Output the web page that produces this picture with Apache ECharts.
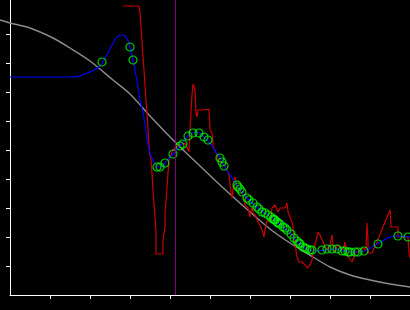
<!DOCTYPE html>
<html>
<head>
<meta charset="utf-8">
<script src="https://cdn.jsdelivr.net/npm/echarts/dist/echarts.min.js"></script>
<style>
html,body{margin:0;padding:0;background:#000;}
#chart{width:410px;height:310px;}
</style>
</head>
<body>
<div id="chart"></div>
<script>
// Tick positions (no labels in the reference)
const xTicks = [40, 80, 120, 160, 200, 240, 280, 320, 360];
const yTicks = [29, 58, 87, 116, 145, 174, 203, 232, 261];
const markerX = 165.5;

// Smooth gray reference curve
const referenceCurve = [
  [-10,275],[0,272],[20,267],[43,257],[60,247],[80,234],[103,215],[120,201],
  [140,179],[167,151],[190,129],[210,110],[240,83],[260,66],[280,52],[303,38],
  [320,28],[340,20],[360,15],[380,11],[400,8]
];

// Blue fitted curve
const fitCurve = [
  [0,218],[30,218],[60,218],[68,218.5],[75,221],[80,223],[85,225.5],[90,229],
  [94,235],[98,242],[102,250],[106,257],[109,259.5],[112,260],[115,259],[118,254],
  [120,248],[123,235],[126,220],[128,208],[130,195],[133,182],[135,170],[138,150],
  [141,139],[145,131],[148,128],[151,128],[155,132],[159,137],[163,141],[167,146],
  [171,150],[176,157],[180,161],[185,162.5],[190,162],[194,158],[198,154],[202,149],
  [206,143],[210,137],[214,130],[218,123],[223,116],[228,108],[233,102],[238,96],
  [244,90],[250,85],[256,81],[262,77],[268,72],[274,67],[280,62],[285,56],[290,51],
  [295,47],[300,45],[306,44],[315,45],[325,46],[335,44],[345,43],[354,44],[360,47],
  [367,51],[374,55],[380,58],[388,59],[394,58.5],[400,58]
];

// Red measured signal
const measured = [
  [113,289],[129,289],[130,282],[131,268],[132,253],[133,238],[134,225],[135,210],
  [136,195],[137,182],[138,165],[139,150],[140,140],[141,135],[142,122],[143,105],
  [144,92],[145,77],[146,63],[146,41],[153,41],[153,55],[155,68],[155,82],[156,93],
  [157,108],[158,122],[159,135],[160,138],[162,140],[163,145],[166,148],[168,150],
  [172,151],[175,152],[177,148],[179,143],[180,165],[182,200],[183,211],[184,211],
  [185,205],[186,182],[187,178],[188,185],[190,183],[192,185],[193,186],[199,186],
  [200,165],[202,162],[203,155],[203,148],[205,145],[207,140],[208,135],[210,137],
  [212,132],[215,129],[217,125],[219,120],[221,102],[222,97],[223,105],[224,115],
  [225,118],[226,113],[227,108],[230,105],[233,100],[235,90],[238,87],[240,78],
  [242,88],[243,83],[245,80],[248,73],[251,68],[254,58],[255,65],[257,75],[260,73],
  [262,87],[265,90],[268,83],[270,87],[272,88],[275,87],[277,92],[278,83],[280,78],
  [282,73],[283,68],[284,55],[286,45],[287,38],[288,38],[289,33],[291,35],[292,33],
  [293,32],[295,30],[297,27],[298,25],[300,30],[302,35],[303,43],[307,58],[308,63],
  [310,60],[312,58],[313,53],[315,48],[318,45],[320,50],[322,60],[323,50],[325,43],
  [327,50],[330,48],[332,50],[333,45],[335,53],[336,47],[337,42],[338,38],[340,38],
  [342,33],[343,35],[344,38],[345,43],[348,43],[352,47],[353,45],[356,45],[357,72],
  [358,55],[358,42],[362,42],[363,43],[367,53],[373,68],[380,85],[381,68],[388,68],
  [388,58],[398,58],[399,42],[400,37]
];

// Green sample points
const samples = [
  [92,233],[120,248],[123,235],[147,128],[150,128],[155,132],[163,141],[170,149],
  [173,151],[178,159],[183,162],[189,162],[194,158],[198,155],[210,137],[212,133],
  [214,129],[227,110],[228,108],[230,106],[232,103],[237,97],[239,95],[243,92],
  [247,88],[249,86],[252,83],[255,82],[258,80],[261,78],[263,76],[264,75.5],[265,75],
  [267,73],[268,72],[270,71],[273,68],[275,67],[277,65],[281,61],[284,57],[287,54],
  [289,52],[290,51],[293,48],[295,47],[297,46],[300,45],[302,45],[312,45],[317,46],
  [322,46],[327,46],[332,44],[335,44],[338,43],[340,43],[345,43],[348,43],[354,44],
  [368,51],[388,59],[398,58]
];

const chart = echarts.init(document.getElementById('chart'), null, {renderer: 'canvas'});
const axisCommon = {
  type: 'value',
  splitLine: {show: false},
  axisLabel: {show: false},
  axisLine: {show: true, onZero: false, lineStyle: {color: '#ffffff', width: 1}},
};
const hiddenAxis = {
  type: 'value', show: false, splitLine: {show: false},
  axisLine: {show: false}, axisTick: {show: false}, axisLabel: {show: false}
};
chart.setOption({
  backgroundColor: '#000000',
  animation: false,
  grid: [
    {left: 10, right: 0, top: 0, bottom: 15, containLabel: false},
    {left: 0, right: 0, top: 0, bottom: 15, containLabel: false}
  ],
  xAxis: [
    Object.assign({}, axisCommon, {
      gridIndex: 0, min: 0, max: 400, interval: 40,
      axisTick: {show: true, length: 4, customValues: xTicks, lineStyle: {color: '#ffffff', width: 1}},
      axisLabel: {show: false, customValues: xTicks}
    }),
    Object.assign({}, hiddenAxis, {gridIndex: 1, min: -10, max: 400})
  ],
  yAxis: [
    Object.assign({}, axisCommon, {
      gridIndex: 0, min: 0, max: 295, interval: 29,
      axisTick: {show: true, length: 4, customValues: yTicks, lineStyle: {color: '#ffffff', width: 1}},
      axisLabel: {show: false, customValues: yTicks}
    }),
    Object.assign({}, hiddenAxis, {gridIndex: 1, min: 0, max: 295})
  ],
  series: [
    {
      type: 'line', data: referenceCurve, smooth: 0.3, showSymbol: false, symbol: 'none',
      xAxisIndex: 1, yAxisIndex: 1,
      lineStyle: {color: '#8c8c8c', width: 1.4}, z: 1
    },
    {
      type: 'line', data: [], xAxisIndex: 0, yAxisIndex: 0, z: 1,
      markLine: {
        silent: true, symbol: ['none', 'none'], label: {show: false},
        lineStyle: {color: '#800080', width: 1, type: 'solid'},
        data: [{xAxis: markerX}]
      }
    },
    {
      type: 'line', data: measured, showSymbol: false, symbol: 'none',
      lineStyle: {color: '#cc0000', width: 1.2}, z: 2
    },
    {
      type: 'line', data: fitCurve, smooth: 0.3, showSymbol: false, symbol: 'none',
      lineStyle: {color: '#0000ff', width: 1.2}, z: 3
    },
    {
      type: 'scatter', data: samples, symbol: 'circle', symbolSize: 8,
      itemStyle: {color: 'rgba(0,0,0,0)', borderColor: '#00ff00', borderWidth: 1.2}, z: 4
    }
  ]
});
</script>
</body>
</html>
